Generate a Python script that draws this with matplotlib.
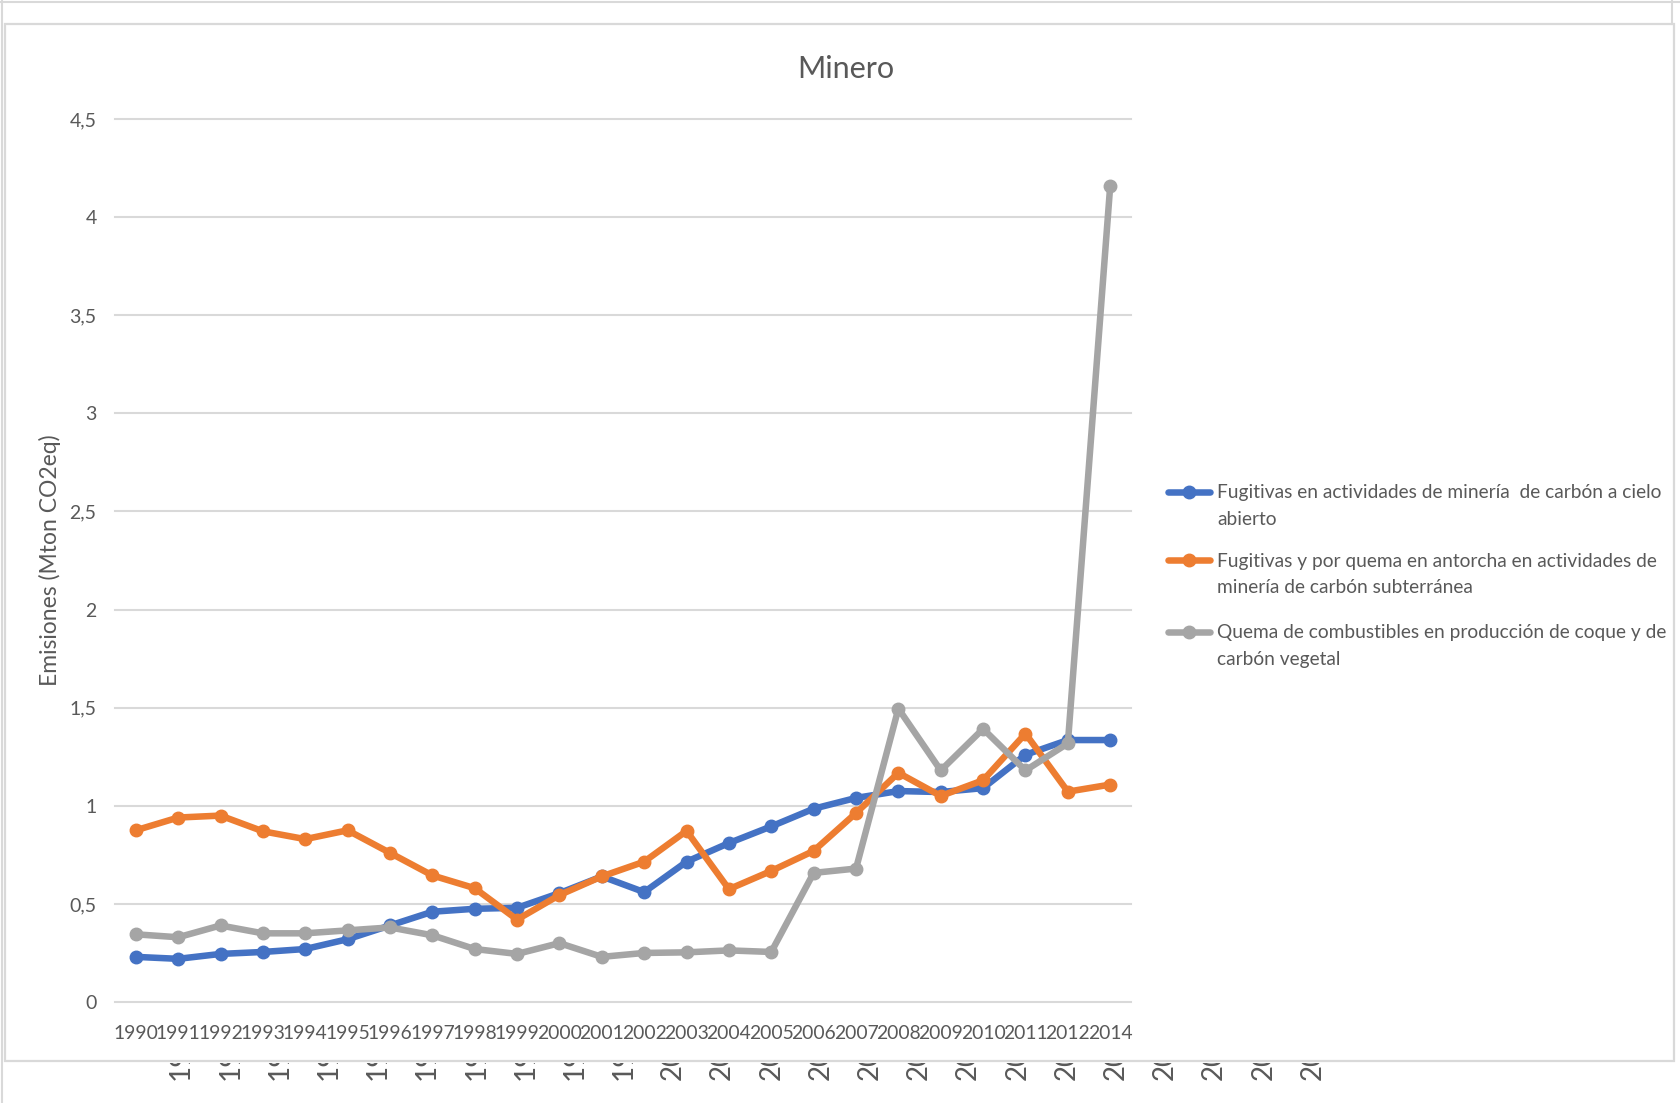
import matplotlib
matplotlib.use("Agg")
import matplotlib.pyplot as plt
from matplotlib.lines import Line2D
from matplotlib.patches import Rectangle
from matplotlib.transforms import Bbox, TransformedBbox
from matplotlib.ticker import FuncFormatter, MultipleLocator

# ---------------- data ----------------
years = ["1990", "1991", "1992", "1993", "1994", "1995", "1996", "1997",
         "1998", "1999", "2000", "2001", "2002", "2003", "2004", "2005",
         "2006", "2007", "2008", "2009", "2010", "2011", "2012", "2014"]

cielo_abierto = [0.23, 0.22, 0.245, 0.255, 0.27, 0.32, 0.39, 0.46,
                 0.475, 0.48, 0.555, 0.64, 0.56, 0.715, 0.81, 0.895,
                 0.985, 1.04, 1.075, 1.07, 1.09, 1.26, 1.335, 1.335]

subterranea = [0.875, 0.94, 0.95, 0.87, 0.83, 0.875, 0.76, 0.645,
               0.58, 0.42, 0.545, 0.64, 0.715, 0.872, 0.575, 0.668,
               0.77, 0.963, 1.168, 1.05, 1.13, 1.368, 1.072, 1.108]

coque = [0.345, 0.33, 0.39, 0.35, 0.35, 0.365, 0.38, 0.34,
         0.27, 0.245, 0.30, 0.23, 0.25, 0.253, 0.263, 0.255,
         0.658, 0.68, 1.495, 1.18, 1.392, 1.18, 1.318, 4.16]

series_labels = [
    "Fugitivas en actividades de minería  de carbón a cielo\nabierto",
    "Fugitivas y por quema en antorcha en actividades de\nminería de carbón subterránea",
    "Quema de combustibles en producción de coque y de\ncarbón vegetal",
]
series_colors = ["#4472C4", "#ED7D31", "#A5A5A5"]
title_text = "Minero"
ylabel_text = "Emisiones (Mton CO2eq)"

# ---------------- style ----------------
plt.rcParams['font.family'] = ['Lato', 'DejaVu Sans']
TXT = "#595959"
GRID = "#D9D9D9"
LW = 4.7
MS = 9.0

W, H = 1680, 1103
fig = plt.figure(figsize=(W / 100, H / 100), dpi=100)
fig.patch.set_facecolor("white")


def fx(px):
    return px / W


def fy(py):
    return 1 - py / H


# outer decorations / frames
fig.add_artist(Line2D([0, 1], [fy(2), fy(2)], color=GRID, lw=1.5))
fig.add_artist(Line2D([fx(1.5), fx(1.5)], [0, 1], color=GRID, lw=1.5))
fig.add_artist(Line2D([fx(1672), fx(1672)], [fy(0), fy(24)], color=GRID, lw=1.5))
fig.add_artist(Rectangle((fx(5), fy(1061)), fx(1674) - fx(5), (1061 - 24) / H,
                         transform=fig.transFigure, fill=False,
                         edgecolor=GRID, lw=1.6))

# axes
L, R, T, B = 114.6, 1131.4, 119, 1002
ax = fig.add_axes([fx(L), fy(B), (R - L) / W, (B - T) / H])
xs = list(range(len(years)))
series = [cielo_abierto, subterranea, coque]
for vals, col in zip(series, series_colors):
    ax.plot(xs, vals, color=col, lw=LW, marker="o", ms=MS,
            solid_capstyle="round", solid_joinstyle="round", clip_on=False)

ax.set_xlim(-0.5, len(years) - 0.5)
ax.set_ylim(0, 4.5)
ax.yaxis.set_major_locator(MultipleLocator(0.5))
ax.yaxis.set_major_formatter(FuncFormatter(lambda v, p: f"{v:g}".replace(".", ",")))
ax.set_xticks(xs)
ax.set_xticklabels(years)
ax.tick_params(axis="y", length=0, pad=13, labelsize=14, labelcolor=TXT)
ax.tick_params(axis="x", length=0, pad=16.5, labelsize=13.9, labelcolor=TXT)
ax.yaxis.grid(True, color=GRID, lw=1.5)
ax.set_axisbelow(True)
for gl in ax.get_ygridlines():
    gl.set_clip_on(False)
for s in ax.spines.values():
    s.set_visible(False)

# title & y label
fig.text(fx(846), fy(68.5), title_text, ha="center", va="center",
         fontsize=22, color=TXT)
fig.text(fx(50), fy(560), ylabel_text, ha="center", va="center",
         rotation=90, fontsize=16.5, color=TXT)

# legend (manual)
leg_first_line = [491.8, 560.4, 632.1]
for lab, col, y0 in zip(series_labels, series_colors, leg_first_line):
    fig.add_artist(Line2D([fx(1168), fx(1210)], [fy(y0), fy(y0)], color=col,
                          lw=LW, solid_capstyle="round"))
    fig.add_artist(Line2D([fx(1189)], [fy(y0)], color=col, marker="o", ms=MS))
    fig.text(fx(1217), fy(y0 + 14), lab, ha="left", va="center",
             fontsize=13.8, color=TXT, linespacing=1.68)

# clipped rotated labels of the chart behind (only their start shows below the frame)
clip = TransformedBbox(Bbox([[0, fy(1086)], [1, fy(1062.5)]]), fig.transFigure)
for i, yr in enumerate(years):
    t = fig.text(fx(181 + 49.2 * i), fy(1080), yr[:2], rotation=90, ha="center",
                 va="bottom", fontsize=20, color=TXT)
    t.set_clip_box(clip)
    t.set_clip_on(True)

fig.savefig("out.png", dpi=100, facecolor="white")
